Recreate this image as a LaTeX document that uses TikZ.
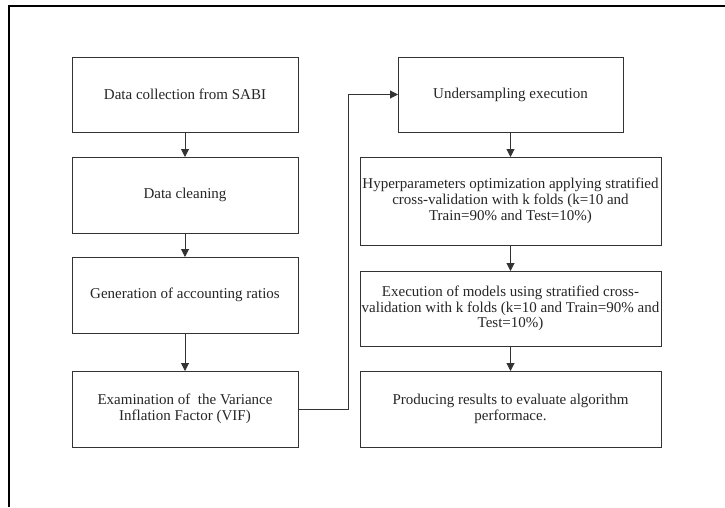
\documentclass[tikz,border=0pt]{standalone}
\usepackage{fontspec}
\setmainfont{Liberation Serif}
\usetikzlibrary{arrows.meta}
\definecolor{linegray}{HTML}{333333}
\definecolor{textgray}{HTML}{262626}
\begin{document}
\begin{tikzpicture}[x=1pt,y=-1pt,
  box/.style={draw=linegray, line width=1pt, fill=white, inner sep=0pt, outer sep=0pt},
  label/.style={align=center, font=\fontsize{15}{15.8}\selectfont, text=textgray, inner sep=0pt},
  flow/.style={draw=linegray, line width=1pt, -{Triangle[length=8pt,width=8pt]}},
  frame/.style={draw=black, line width=1.3pt}
]
\useasboundingbox (0,0) rectangle (725,507);
\draw[frame] (725,6) -- (9,6) -- (9,507);

% left column
\node[box, minimum width=226pt, minimum height=75pt] (a) at (185,94.5) {};
\node[label] (at) at (a) {Data collection from SABI};
\node[box, minimum width=226pt, minimum height=76pt] (b) at (185,195) {};
\node[label] (bt) at (b) {Data cleaning};
\node[box, minimum width=226pt, minimum height=76pt] (c) at (185,295) {};
\node[label] (ct) at (c) {Generation of accounting ratios};
\node[box, minimum width=226pt, minimum height=76pt] (d) at (185,409) {};
\node[label] (dt) at (d) {Examination of\ \ the Variance\\Inflation Factor (VIF)};

% right column
\node[box, minimum width=225pt, minimum height=75pt] (e) at (510.5,94.5) {};
\node[label] (et) at (e) {Undersampling execution};
\node[box, minimum width=301pt, minimum height=88pt] (f) at (510.5,201) {};
\node[label] (ft) at (f) {Hyperparameters optimization applying stratified\\cross-validation with k folds (k=10 and\\Train=90\% and Test=10\%)};
\node[box, minimum width=301pt, minimum height=75pt] (g) at (510.5,308.5) {};
\node[label] (gt) at (g) {Execution of models using stratified cross-\\validation with k folds (k=10 and Train=90\% and\\Test=10\%)};
\node[box, minimum width=301pt, minimum height=76pt] (h) at (510.5,409) {};
\node[label] (ht) at (h) {Producing results to evaluate algorithm\\performace.};

% connectors
\draw[flow] (a) -- (b);
\draw[flow] (b) -- (c);
\draw[flow] (c) -- (d);
\draw[flow] (e) -- (f);
\draw[flow] (f) -- (g);
\draw[flow] (g) -- (h);
\coordinate (bend) at (348,409);
\draw[flow] (d.east) -- (bend) |- (e.west);
\end{tikzpicture}
\end{document}
